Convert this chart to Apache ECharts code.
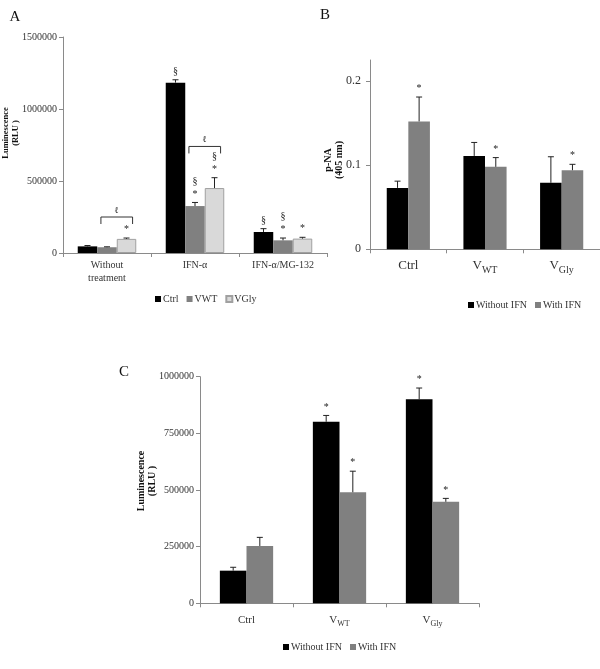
<!DOCTYPE html>
<html>
<head>
<meta charset="utf-8">
<script src="https://cdn.jsdelivr.net/npm/echarts@6/dist/echarts.min.js"></script>
<style>html,body{margin:0;padding:0;background:#fff}#c{width:600px;height:669px}</style>
</head>
<body>
<div id="c"></div>
<script>
// ---------- Panel A data ----------
const aCategories = ['Without\ntreatment', 'IFN-α', 'IFN-α/MG-132'];
const aCtrl = [46000, 1183000, 146000];
const aCtrlErr = [6000, 20000, 23000];
const aVWT = [40000, 326000, 88000];
const aVWTErr = [3000, 25000, 16000];
const aVGly = [98000, 451000, 100000];
const aVGlyErr = [6000, 72000, 9000];
const aCtrlMarks = ['', '§', '§'];
const aVWTMarks = ['', '§\n*', '§\n*'];
const aVGlyMarks = ['*', '§\n*', '*'];
const aBrackets = [[0, 250000], [1, 740000]];
const aTicks = [0, 500000, 1000000, 1500000];

// ---------- Panel B data ----------
const bCategories = ['Ctrl', 'VWT', 'VGly'];
const bWithout = [0.073, 0.111, 0.079];
const bWithoutErr = [0.008, 0.016, 0.031];
const bWith = [0.152, 0.098, 0.094];
const bWithErr = [0.029, 0.011, 0.007];
const bWithoutMarks = ['', '', ''];
const bWithMarks = ['*', '*', '*'];
const bTicks = [0, 0.1, 0.2];

// ---------- Panel C data ----------
const cCategories = ['Ctrl', 'VWT', 'VGly'];
const cWithout = [144000, 801000, 900000];
const cWithoutErr = [15000, 28000, 50000];
const cWith = [253000, 490000, 448000];
const cWithErr = [38000, 93000, 15000];
const cWithoutMarks = ['', '*', '*'];
const cWithMarks = ['', '*', '*'];
const cTicks = [0, 250000, 500000, 750000, 1000000];

const FONT = 'Liberation Serif';
const AXIS = '#8a8a8a';
const TXT = '#333';
const BLACK = '#000000';
const GRAY = '#808080';
const LIGHT = '#d9d9d9';

function errSeries(grid, values, errs, marks, barIdx, nBars, gap) {
  const w = (1 - gap) / nBars;
  const off = (barIdx - (nBars - 1) / 2) * w;
  return {
    type: 'custom',
    xAxisIndex: grid, yAxisIndex: grid,
    z: 5,
    silent: true,
    encode: { x: 0, y: 1 },
    data: values.map((v, i) => [i, v, errs[i]]),
    renderItem: function (params, api) {
      const i = api.value(0), v = api.value(1), e = api.value(2);
      const band = api.size([1, 0])[0];
      const base = api.coord([i, v]);
      const top = api.coord([i, v + e]);
      const x = base[0] + off * band;
      const children = [
        { type: 'line', shape: { x1: x, y1: base[1], x2: x, y2: top[1] }, style: { stroke: '#222', lineWidth: 1 } },
        { type: 'line', shape: { x1: x - 3, y1: top[1], x2: x + 3, y2: top[1] }, style: { stroke: '#222', lineWidth: 1 } }
      ];
      const m = marks[i];
      if (m) {
        children.push({
          type: 'text',
          style: {
            text: m, x: x, y: top[1] - 2, align: 'center', verticalAlign: 'bottom',
            fontFamily: FONT, fontSize: 10, lineHeight: 13, fill: '#222'
          }
        });
      }
      return { type: 'group', children: children };
    }
  };
}

function bracketSeries(grid, brackets, nBars, gap) {
  const w = (1 - gap) / nBars;
  return {
    type: 'custom',
    xAxisIndex: grid, yAxisIndex: grid,
    z: 5, silent: true,
    encode: { x: 0, y: 1 },
    data: brackets,
    renderItem: function (params, api) {
      const band = api.size([1, 0])[0];
      const p = api.coord([api.value(0), api.value(1)]);
      const cx = p[0] + 0.5 * w * band;
      const half = 0.18 * band;
      return {
        type: 'group',
        children: [
          { type: 'polyline', shape: { points: [[cx - half, p[1] + 7], [cx - half, p[1]], [cx + half, p[1]], [cx + half, p[1] + 7]] }, style: { stroke: '#333', lineWidth: 1, fill: null } },
          { type: 'text', style: { text: 'ℓ', x: cx, y: p[1] - 2, align: 'center', verticalAlign: 'bottom', fontFamily: 'DejaVu Serif', fontSize: 9, fill: '#222' } }
        ]
      };
    }
  };
}

function subLabel(v) {
  if (v.length > 1 && v[0] === 'V') return '{v|V}{s|' + v.slice(1) + '}';
  return '{v|' + v + '}';
}

const gapA = 0.335, gapB = 0.437, gapC = 0.427;

function valueAxis(grid, min, max, interval, ticks, fontSize, margin) {
  return {
    type: 'value', gridIndex: grid, min: min, max: max, interval: interval,
    axisLine: { show: true, lineStyle: { color: AXIS, width: 1 } },
    axisTick: { show: true, length: 4, inside: false, lineStyle: { color: AXIS }, customValues: ticks },
    axisLabel: { color: TXT, fontFamily: FONT, fontSize: fontSize, margin: margin, customValues: ticks,
      formatter: function (v) { return String(v); } },
    splitLine: { show: false }
  };
}

function catAxis(grid, cats, fontSize, margin, rich) {
  const ax = {
    type: 'category', gridIndex: grid, data: cats,
    axisLine: { lineStyle: { color: AXIS, width: 1 } },
    axisTick: { show: true, length: 4, lineStyle: { color: AXIS } },
    axisLabel: { color: TXT, fontFamily: FONT, fontSize: fontSize, margin: margin, lineHeight: 13, interval: 0 }
  };
  if (rich) {
    ax.axisLabel.formatter = subLabel;
    ax.axisLabel.rich = {
      v: { fontFamily: FONT, fontSize: fontSize, color: TXT, lineHeight: fontSize + 6 },
      s: { fontFamily: FONT, fontSize: fontSize - 3, color: TXT, verticalAlign: 'bottom' }
    };
  }
  return ax;
}

function barSeries(name, grid, data, color, gap, border) {
  return {
    name: name, type: 'bar', xAxisIndex: grid, yAxisIndex: grid,
    data: data, barGap: '0%', barCategoryGap: (gap * 100) + '%',
    itemStyle: { color: color, borderColor: border || color, borderWidth: border ? 1 : 0 }
  };
}

const option = {
  animation: false,
  backgroundColor: '#fff',
  grid: [
    { left: 63, top: 37, width: 264, height: 216 },
    { left: 370, top: 60, width: 243, height: 189.3 },
    { left: 200, top: 376.7, width: 279, height: 226.6 }
  ],
  xAxis: [
    catAxis(0, aCategories, 10, 6, false),
    catAxis(1, bCategories, 13, 7, true),
    catAxis(2, cCategories, 11, 8, true)
  ],
  yAxis: [
    valueAxis(0, 0, 1500000, 500000, aTicks, 10, 6),
    valueAxis(1, 0, 0.225, 0.1, bTicks, 12, 9),
    valueAxis(2, 0, 1000000, 250000, cTicks, 10, 6)
  ],
  legend: [
    { data: ['Ctrl', 'VWT', 'VGly'], left: 150, top: 289, itemWidth: 6, itemHeight: 6, itemGap: 8,
      icon: 'rect', textStyle: { fontFamily: FONT, fontSize: 10, color: TXT, padding: [0, 0, 0, -3] } },
    { data: ['Without IFN', 'With IFN'], left: 463, top: 295, itemWidth: 6, itemHeight: 6, itemGap: 8,
      icon: 'rect', textStyle: { fontFamily: FONT, fontSize: 10, color: TXT, padding: [0, 0, 0, -3] } },
    { data: ['Without IFN', 'With IFN'], left: 278, top: 637, itemWidth: 6, itemHeight: 6, itemGap: 8,
      icon: 'rect', textStyle: { fontFamily: FONT, fontSize: 10, color: TXT, padding: [0, 0, 0, -3] } }
  ],
  graphic: [
    { type: 'text', x: 15, y: 17, style: { text: 'A', fontFamily: FONT, fontSize: 15, fill: '#111', align: 'center', verticalAlign: 'middle' } },
    { type: 'text', x: 325, y: 15, style: { text: 'B', fontFamily: FONT, fontSize: 15, fill: '#111', align: 'center', verticalAlign: 'middle' } },
    { type: 'text', x: 124, y: 372, style: { text: 'C', fontFamily: FONT, fontSize: 15, fill: '#111', align: 'center', verticalAlign: 'middle' } },
    { type: 'text', x: 11, y: 133, rotation: Math.PI / 2,
      style: { text: 'Luminescence\n(RLU )', fontFamily: FONT, fontWeight: 'bold', fontSize: 8.5, lineHeight: 10, fill: '#111', align: 'center', verticalAlign: 'middle' } },
    { type: 'text', x: 334, y: 160, rotation: Math.PI / 2,
      style: { text: 'p-NA\n(405 nm)', fontFamily: FONT, fontWeight: 'bold', fontSize: 10, lineHeight: 11, fill: '#111', align: 'center', verticalAlign: 'middle' } },
    { type: 'text', x: 147, y: 481, rotation: Math.PI / 2,
      style: { text: 'Luminescence\n(RLU )', fontFamily: FONT, fontWeight: 'bold', fontSize: 10, lineHeight: 11, fill: '#111', align: 'center', verticalAlign: 'middle' } }
  ],
  series: [
    barSeries('Ctrl', 0, aCtrl, BLACK, gapA),
    barSeries('VWT', 0, aVWT, GRAY, gapA),
    barSeries('VGly', 0, aVGly, LIGHT, gapA, '#a0a0a0'),
    errSeries(0, aCtrl, aCtrlErr, aCtrlMarks, 0, 3, gapA),
    errSeries(0, aVWT, aVWTErr, aVWTMarks, 1, 3, gapA),
    errSeries(0, aVGly, aVGlyErr, aVGlyMarks, 2, 3, gapA),
    bracketSeries(0, aBrackets, 3, gapA),

    barSeries('Without IFN', 1, bWithout, BLACK, gapB),
    barSeries('With IFN', 1, bWith, GRAY, gapB),
    errSeries(1, bWithout, bWithoutErr, bWithoutMarks, 0, 2, gapB),
    errSeries(1, bWith, bWithErr, bWithMarks, 1, 2, gapB),

    barSeries('Without IFN', 2, cWithout, BLACK, gapC),
    barSeries('With IFN', 2, cWith, GRAY, gapC),
    errSeries(2, cWithout, cWithoutErr, cWithoutMarks, 0, 2, gapC),
    errSeries(2, cWith, cWithErr, cWithMarks, 1, 2, gapC)
  ]
};

const chart = echarts.init(document.getElementById('c'), null, { renderer: 'canvas' });
chart.setOption(option);
</script>
</body>
</html>
